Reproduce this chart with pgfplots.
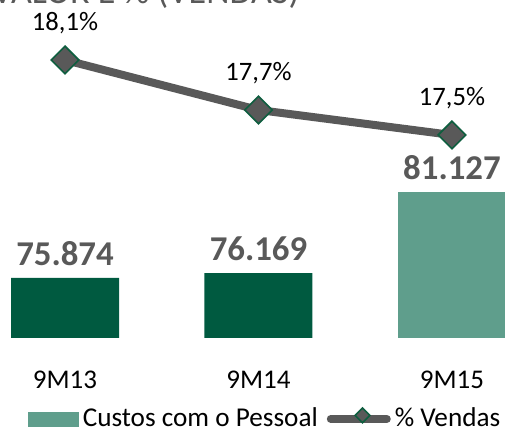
\documentclass[border=0pt]{standalone}
\usepackage{pgfplots}
\pgfplotsset{compat=1.18}
\usepackage{fontspec}
\setmainfont{Carlito}
\definecolor{dkgreen}{HTML}{005A40}
\definecolor{ltgreen}{HTML}{5F9E8C}
\definecolor{lgray}{HTML}{595959}
\definecolor{mkedge}{HTML}{0E5E3F}
\begin{document}
\begin{tikzpicture}
\begin{axis}[at={(0pt,0pt)}, anchor=south west, scale only axis,
  width=252.5pt, height=169pt,
  xmin=-0.336, xmax=2.274, ymin=72209, ymax=92854,
  ybar, bar width=54pt, bar shift=0pt,
  axis line style={draw=none}, ytick=\empty,
  xtick={0,1,2}, xticklabels={9M13,9M14,9M15},
  major tick length=0pt,
  xticklabel style={font=\fontsize{13.5}{16}\selectfont, anchor=base, yshift=-25.5pt},
  clip=false,
  nodes near coords={\pgfplotspointmeta}, point meta=explicit symbolic,
  every node near coord/.append style={font=\bfseries\fontsize{17.4}{20}\selectfont, text=lgray, anchor=south, inner sep=0pt, yshift=6pt},
]
\addplot[fill=dkgreen, draw=none] coordinates {(0,75874) [75.874] (1,76169) [76.169]};
\addplot[fill=ltgreen, draw=none] coordinates {(2,81127) [81.127]};
\end{axis}
\begin{axis}[at={(0pt,0pt)}, anchor=south west, scale only axis,
  width=252.5pt, height=169pt,
  xmin=-0.336, xmax=2.274, ymin=15.876, ymax=18.58,
  hide axis, clip=false,
  legend style={draw=none, fill=none, inner sep=0pt, outer sep=0pt,
    at={(0.0554,-0.2396)}, anchor=west, legend columns=2,
    font=\fontsize{13.6}{16}\selectfont,
    /tikz/every even column/.append style={column sep=2.5pt}},
  legend cell align=left,
]
\addlegendimage{legend image code/.code={\fill[ltgreen] (0pt,-3.5pt) rectangle (25pt,3.5pt);}}
\addlegendentry{Custos com o Pessoal}
\addplot[lgray, line width=4pt, mark=square*, mark size=4.9pt,
  mark options={rotate=45, fill=lgray, draw=mkedge, line width=0.8pt},
  nodes near coords={\pgfplotspointmeta}, point meta=explicit symbolic,
  every node near coord/.append style={font=\fontsize{13.3}{16}\selectfont, text=black, anchor=base, yshift=14.5pt, inner sep=0pt},
  legend image code/.code={\draw[lgray, line width=4pt, line cap=round] (0pt,0pt) -- (28pt,0pt);
    \node[draw=mkedge, fill=lgray, line width=0.8pt, rotate=45, minimum size=5.2pt, inner sep=0pt] at (14pt,0pt) {};}]
  coordinates {(0,18.1) [18,1\%] (1,17.7) [17,7\%] (2,17.5) [17,5\%]};
\addlegendentry{\% Vendas}
\end{axis}
\node[anchor=base west, font=\fontsize{18}{21}\selectfont, text=lgray, inner sep=0pt] at (-4pt,167pt) {VALOR E \% (VENDAS)};
\pgfresetboundingbox
\useasboundingbox (0pt,-47.5pt) rectangle (252.5pt,169pt);
\end{tikzpicture}
\end{document}
